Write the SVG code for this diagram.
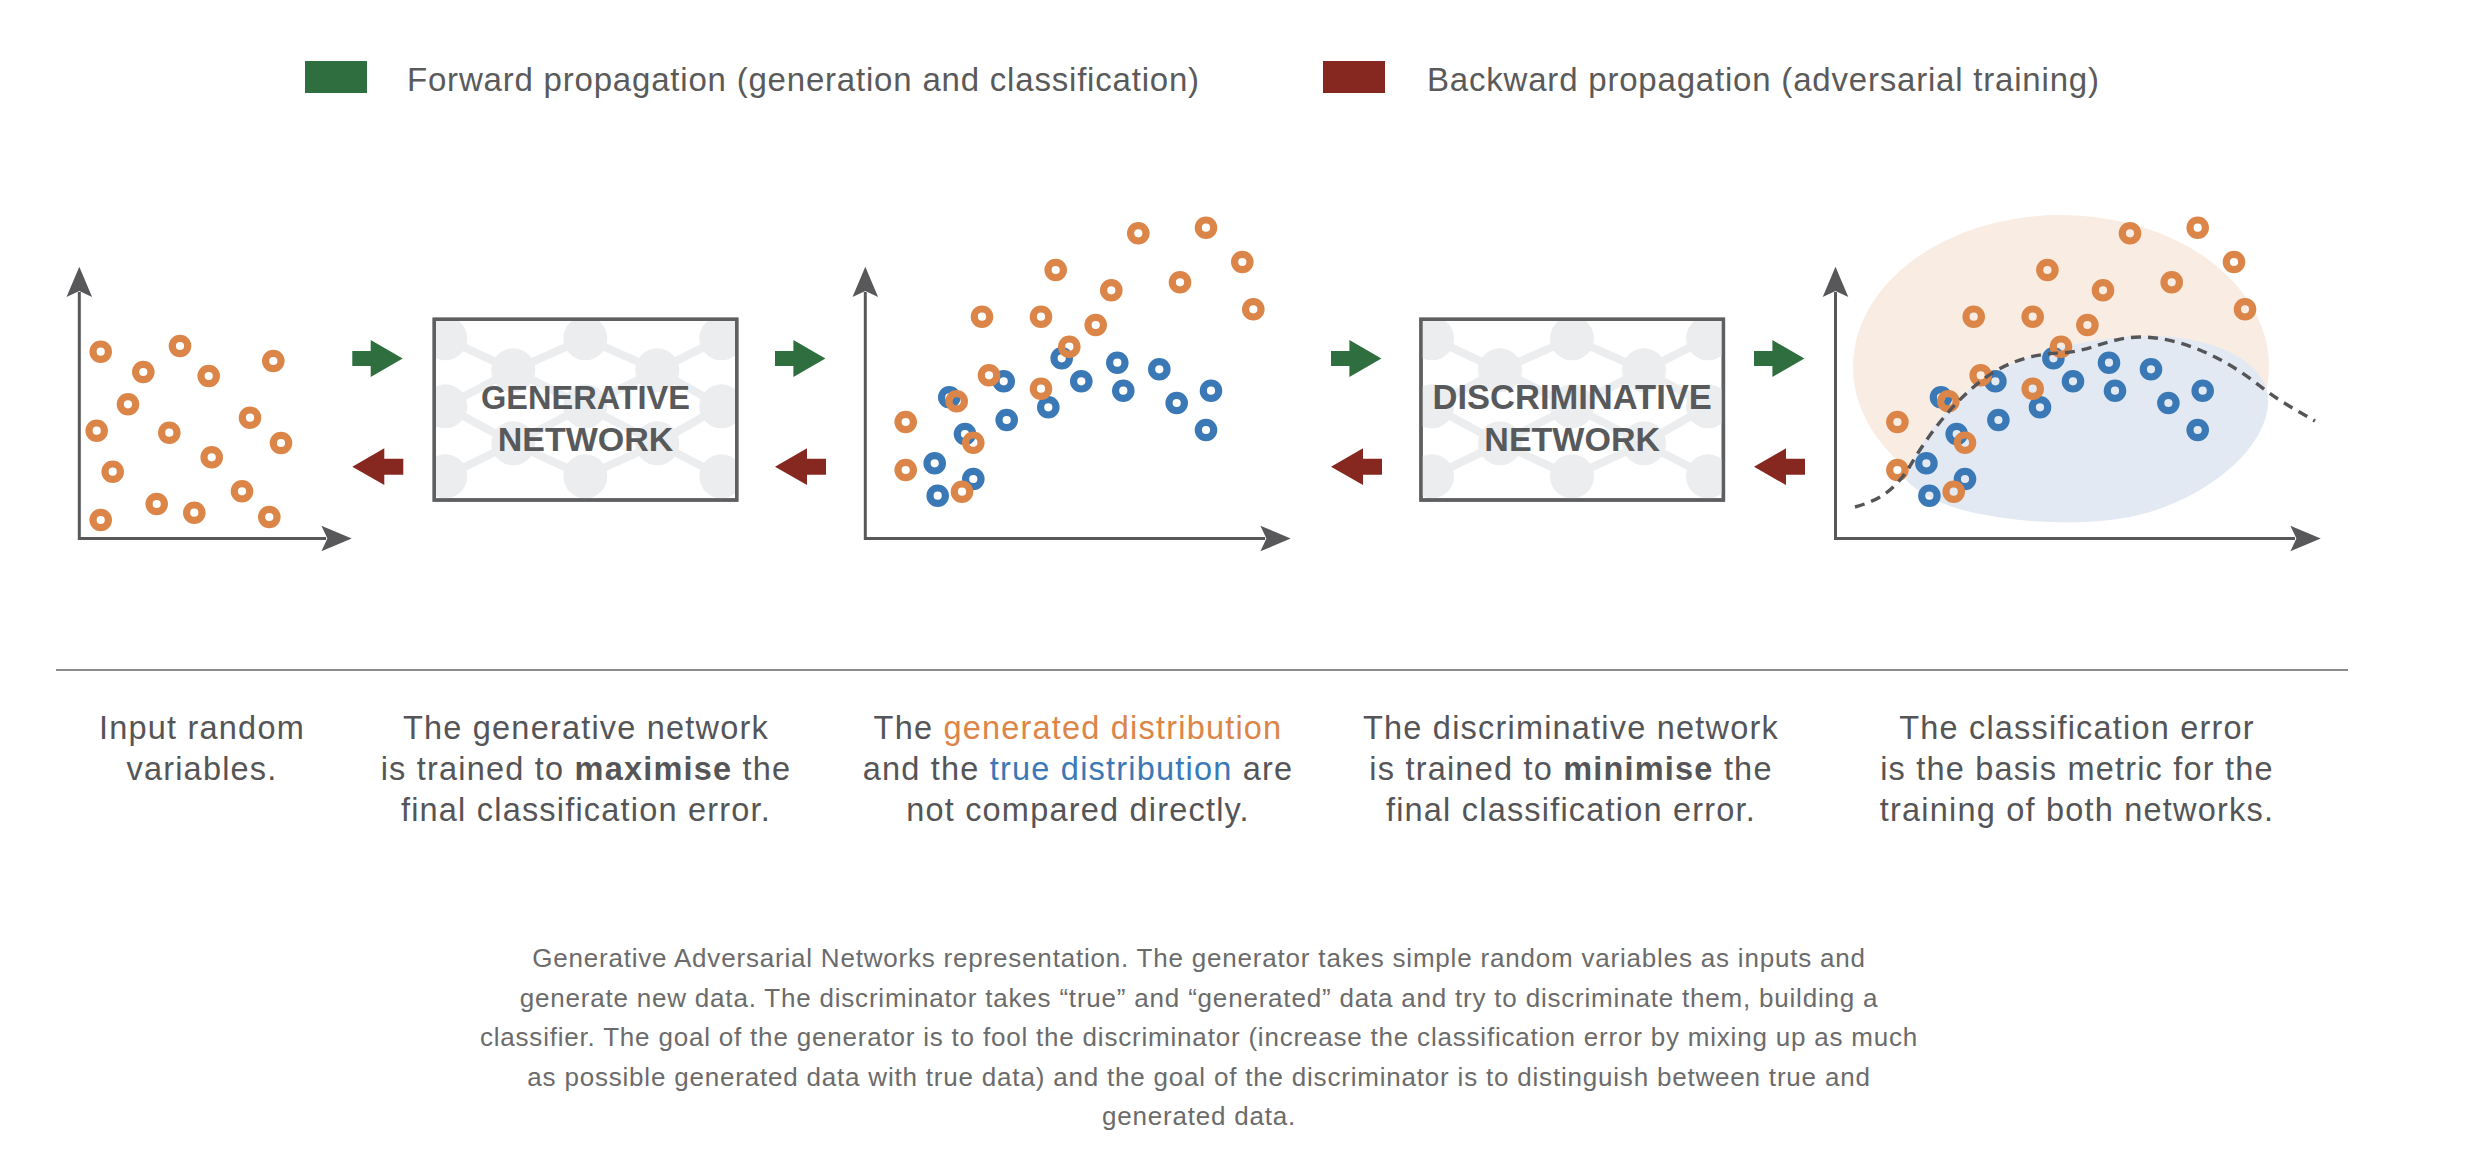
<svg xmlns="http://www.w3.org/2000/svg" xmlns:xlink="http://www.w3.org/1999/xlink" width="2466" height="1150" viewBox="0 0 2466 1150">
<style>
.o{fill:none;stroke:#DC8548;stroke-width:7.2}
.b{fill:none;stroke:#3A78B6;stroke-width:7.2}
.ax{fill:none;stroke:#58585A;stroke-width:3}
.axh{fill:#58585A}
.ga{fill:#2E6E3F}
.ra{fill:#862820}
.box{fill:#FFFFFF;stroke:#5E5F61;stroke-width:3.4}
.nl{stroke:#ECEDEF;stroke-width:8}
.nn{fill:#ECEDEF}
.bt{font-family:"Liberation Sans",Arial,sans-serif;font-weight:bold;font-size:32.5px;fill:#58595B;text-anchor:middle}
.leg{font-family:"Liberation Sans",Arial,sans-serif;font-size:33px;letter-spacing:0.8px;fill:#5A5A5A}
.cap{font-family:"Liberation Sans",Arial,sans-serif;font-size:32.5px;letter-spacing:1.2px;fill:#555557;text-anchor:middle}
.par{font-family:"Liberation Sans",Arial,sans-serif;font-size:26px;letter-spacing:0.8px;fill:#6B6B6B;text-anchor:middle}
</style>
<defs>
<clipPath id="boxclip"><rect x="0" y="0" width="302.4" height="180.7"/></clipPath>
<g id="net">
<g class="nl">
<line x1="11" y1="19" x2="79" y2="51"/><line x1="151" y1="19" x2="79" y2="51"/><line x1="151" y1="19" x2="223" y2="51"/><line x1="287" y1="19" x2="223" y2="51"/>
<line x1="79" y1="51" x2="11" y2="87"/><line x1="79" y1="51" x2="151" y2="87"/><line x1="223" y1="51" x2="151" y2="87"/><line x1="223" y1="51" x2="287" y2="87"/>
<line x1="11" y1="87" x2="79" y2="124"/><line x1="151" y1="87" x2="79" y2="124"/><line x1="151" y1="87" x2="223" y2="124"/><line x1="287" y1="87" x2="223" y2="124"/>
<line x1="79" y1="124" x2="11" y2="157"/><line x1="79" y1="124" x2="151" y2="157"/><line x1="223" y1="124" x2="151" y2="157"/><line x1="223" y1="124" x2="287" y2="157"/>
</g>
<g class="nn">
<circle cx="11" cy="19" r="22"/><circle cx="151" cy="19" r="22"/><circle cx="287" cy="19" r="22"/>
<circle cx="79" cy="51" r="22"/><circle cx="223" cy="51" r="22"/>
<circle cx="11" cy="87" r="22"/><circle cx="151" cy="87" r="22"/><circle cx="287" cy="87" r="22"/>
<circle cx="79" cy="124" r="22"/><circle cx="223" cy="124" r="22"/>
<circle cx="11" cy="157" r="22"/><circle cx="151" cy="157" r="22"/><circle cx="287" cy="157" r="22"/>
</g>
</g>
<path id="garrow" d="M0,-7.6 H18.4 V-18.4 L50.4,0 L18.4,18.4 V7.6 H0 Z"/>
<path id="rarrow" d="M0,0 L32,-18.4 V-8 H51 V8 H32 V18.4 Z"/>
<g id="dots">
<g>
<circle class="b" cx="1061.7" cy="358.3" r="7.7"/>
<circle class="b" cx="1117.3" cy="362.7" r="7.7"/>
<circle class="b" cx="1159.3" cy="369.3" r="7.7"/>
<circle class="b" cx="1003.7" cy="381.3" r="7.7"/>
<circle class="b" cx="1081.3" cy="381.3" r="7.7"/>
<circle class="b" cx="1123.3" cy="390.7" r="7.7"/>
<circle class="b" cx="1211" cy="390.7" r="7.7"/>
<circle class="b" cx="949.3" cy="397.3" r="7.7"/>
<circle class="b" cx="1176.7" cy="403" r="7.7"/>
<circle class="b" cx="1048.3" cy="407.3" r="7.7"/>
<circle class="b" cx="1006.7" cy="420" r="7.7"/>
<circle class="b" cx="1206" cy="430" r="7.7"/>
<circle class="b" cx="965" cy="434" r="7.7"/>
<circle class="b" cx="934.7" cy="463.3" r="7.7"/>
<circle class="b" cx="973.3" cy="479" r="7.7"/>
<circle class="b" cx="937.7" cy="495.7" r="7.7"/>
</g>
<g>
<circle class="o" cx="1138.3" cy="233.3" r="7.7"/>
<circle class="o" cx="1206" cy="227.7" r="7.7"/>
<circle class="o" cx="1242.3" cy="262" r="7.7"/>
<circle class="o" cx="1253.3" cy="309.3" r="7.7"/>
<circle class="o" cx="1180" cy="282.3" r="7.7"/>
<circle class="o" cx="1055.7" cy="270" r="7.7"/>
<circle class="o" cx="1111.3" cy="290.3" r="7.7"/>
<circle class="o" cx="1095.7" cy="325" r="7.7"/>
<circle class="o" cx="982" cy="316.7" r="7.7"/>
<circle class="o" cx="1041" cy="316.7" r="7.7"/>
<circle class="o" cx="1069.3" cy="346.7" r="7.7"/>
<circle class="o" cx="989" cy="375.3" r="7.7"/>
<circle class="o" cx="1041" cy="388.7" r="7.7"/>
<circle class="o" cx="956.7" cy="401.3" r="7.7"/>
<circle class="o" cx="905.7" cy="422" r="7.7"/>
<circle class="o" cx="973.3" cy="442.7" r="7.7"/>
<circle class="o" cx="905.7" cy="470" r="7.7"/>
<circle class="o" cx="962" cy="491.7" r="7.7"/>
</g>
</g>
</defs>

<rect x="0" y="0" width="2466" height="1150" fill="#FFFFFF"/>

<g id="legend">
<rect x="305" y="61" width="62" height="32" fill="#2E6E3F"/>
<text class="leg" x="407" y="91">Forward propagation (generation and classification)</text>
<rect x="1323" y="61" width="62" height="32" fill="#862820"/>
<text class="leg" x="1427" y="91">Backward propagation (adversarial training)</text>
</g>

<g id="plot-input">
<path class="ax" d="M79.3,292 V538.5 H326"/>
<path class="axh" d="M79.3,266.7 L66.5,297 L79.3,291 L92.1,297 Z"/>
<path class="axh" d="M351.7,538.5 L321.4,525.7 L327.4,538.5 L321.4,551.3 Z"/>
<g>
<circle class="o" cx="100.7" cy="351.7" r="7.7"/>
<circle class="o" cx="180" cy="346" r="7.7"/>
<circle class="o" cx="143.3" cy="372" r="7.7"/>
<circle class="o" cx="208.7" cy="376" r="7.7"/>
<circle class="o" cx="273.3" cy="361" r="7.7"/>
<circle class="o" cx="128" cy="404.3" r="7.7"/>
<circle class="o" cx="96.7" cy="430.7" r="7.7"/>
<circle class="o" cx="169.3" cy="432.7" r="7.7"/>
<circle class="o" cx="250" cy="417.7" r="7.7"/>
<circle class="o" cx="281" cy="443" r="7.7"/>
<circle class="o" cx="211.7" cy="457.3" r="7.7"/>
<circle class="o" cx="112.7" cy="471.7" r="7.7"/>
<circle class="o" cx="242" cy="491.3" r="7.7"/>
<circle class="o" cx="156.7" cy="504" r="7.7"/>
<circle class="o" cx="194.3" cy="512.7" r="7.7"/>
<circle class="o" cx="269.3" cy="517" r="7.7"/>
<circle class="o" cx="100.7" cy="520" r="7.7"/>
</g>
</g>

<g id="generative-network">
<rect class="box" x="434.3" y="319.3" width="302.4" height="180.7"/>
<g transform="translate(434.3,319.3)" clip-path="url(#boxclip)"><use xlink:href="#net"/></g>
<rect x="434.3" y="319.3" width="302.4" height="180.7" fill="none" stroke="#5E5F61" stroke-width="3.4"/>
<text class="bt" x="585.5" y="408.5">GENERATIVE</text>
<text class="bt" x="585.5" y="451" style="font-size:34px">NETWORK</text>
</g>

<g id="plot-generated">
<path class="ax" d="M865.3,292 V538.5 H1265"/>
<path class="axh" d="M865.3,266.7 L852.5,297 L865.3,291 L878.1,297 Z"/>
<path class="axh" d="M1290.7,538.5 L1260.4,525.7 L1266.4,538.5 L1260.4,551.3 Z"/>
<use xlink:href="#dots"/>
</g>

<g id="discriminative-network">
<rect class="box" x="1421" y="319.3" width="302.4" height="180.7"/>
<g transform="translate(1421,319.3)" clip-path="url(#boxclip)"><use xlink:href="#net"/></g>
<rect x="1421" y="319.3" width="302.4" height="180.7" fill="none" stroke="#5E5F61" stroke-width="3.4"/>
<text class="bt" x="1572.2" y="408.5" style="font-size:34.5px">DISCRIMINATIVE</text>
<text class="bt" x="1572.2" y="451" style="font-size:34px">NETWORK</text>
</g>

<g id="plot-classified">
<ellipse cx="2061" cy="366.7" rx="208" ry="151.7" fill="#F9ECE3"/>
<path d="M1906,480 C1915,450 1940,410 1975,385 C2015,356 2070,340 2140,336 C2200,334 2262,355 2268,395 C2272,440 2220,490 2150,512 C2100,527 2030,524 1980,514 C1945,507 1920,495 1906,480 Z" fill="#E2E9F2"/>
<path class="ax" d="M1835.5,292 V538.5 H2295"/>
<path class="axh" d="M1835.5,266.7 L1822.7,297 L1835.5,291 L1848.3,297 Z"/>
<path class="axh" d="M2320.7,538.5 L2290.4,525.7 L2296.4,538.5 L2290.4,551.3 Z"/>
<use xlink:href="#dots" transform="translate(991.7,0)"/>
<path d="M1855,507 C1880,500 1895,490 1910,466 C1930,432 1955,400 1985,378 C2010,360 2035,354 2060,353 C2090,352 2110,337 2140,337 C2185,337 2230,362 2260,386 C2280,402 2300,412 2315,421" fill="none" stroke="#555557" stroke-width="3.4" stroke-dasharray="10,7"/>
</g>

<g id="connectors">
<use xlink:href="#garrow" class="ga" x="352.3" y="358.5"/>
<use xlink:href="#rarrow" class="ra" x="352.3" y="466.7"/>
<use xlink:href="#garrow" class="ga" x="775" y="358.5"/>
<use xlink:href="#rarrow" class="ra" x="775" y="466.7"/>
<use xlink:href="#garrow" class="ga" x="1331" y="358.5"/>
<use xlink:href="#rarrow" class="ra" x="1331" y="466.7"/>
<use xlink:href="#garrow" class="ga" x="1754" y="358.5"/>
<use xlink:href="#rarrow" class="ra" x="1754" y="466.7"/>
</g>

<line x1="56" y1="670" x2="2348" y2="670" stroke="#8C8C8C" stroke-width="2"/>

<g id="captions">
<text class="cap" x="202" y="739">Input random</text>
<text class="cap" x="202" y="780">variables.</text>
<text class="cap" x="586" y="739">The generative network</text>
<text class="cap" x="586" y="780">is trained to <tspan font-weight="bold">maximise</tspan> the</text>
<text class="cap" x="586" y="821">final classification error.</text>
<text class="cap" x="1078" y="739">The <tspan fill="#DC8548">generated distribution</tspan></text>
<text class="cap" x="1078" y="780">and the <tspan fill="#3A78B6">true distribution</tspan> are</text>
<text class="cap" x="1078" y="821">not compared directly.</text>
<text class="cap" x="1571" y="739">The discriminative network</text>
<text class="cap" x="1571" y="780">is trained to <tspan font-weight="bold">minimise</tspan> the</text>
<text class="cap" x="1571" y="821">final classification error.</text>
<text class="cap" x="2077" y="739">The classification error</text>
<text class="cap" x="2077" y="780">is the basis metric for the</text>
<text class="cap" x="2077" y="821">training of both networks.</text>
</g>

<g id="description">
<text class="par" x="1199" y="967">Generative Adversarial Networks representation. The generator takes simple random variables as inputs and</text>
<text class="par" x="1199" y="1007">generate new data. The discriminator takes “true” and “generated” data and try to discriminate them, building a</text>
<text class="par" x="1199" y="1046">classifier. The goal of the generator is to fool the discriminator (increase the classification error by mixing up as much</text>
<text class="par" x="1199" y="1086">as possible generated data with true data) and the goal of the discriminator is to distinguish between true and</text>
<text class="par" x="1199" y="1125">generated data.</text>
</g>
</svg>
